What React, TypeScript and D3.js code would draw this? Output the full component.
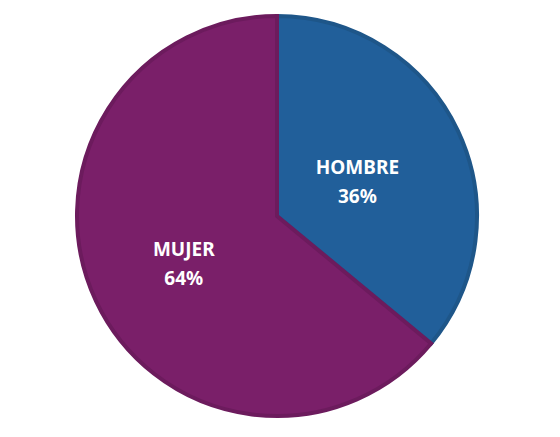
import * as d3 from "d3";

// chart data
const categories = ["HOMBRE", "MUJER"];
const shares = [36, 64];
const fills = ["#215F9A", "#7A1F69"];
const borders = ["#1E5689", "#6C1B5D"];

const W = 560;
const H = 437;
const cx = 277;
const cy = 216;
const radius = 202;

const App = () => {
  const pie = d3
    .pie<number>()
    .sort(null)
    .startAngle(0)
    .endAngle(2 * Math.PI)
    .value((d) => d);
  const slices = pie(shares);
  const total = d3.sum(shares);

  const arc = d3
    .arc<d3.PieArcDatum<number>>()
    .innerRadius(0)
    .outerRadius(radius - 2);

  // bigger slices push their label a bit further out
  const labelPos = (s: d3.PieArcDatum<number>) => {
    const lr = radius * (0.35 + 0.25 * (s.value / total));
    return d3
      .arc<d3.PieArcDatum<number>>()
      .innerRadius(lr)
      .outerRadius(lr)
      .centroid(s);
  };

  return (
    <svg
      width={W}
      height={H}
      style={{ position: "absolute", left: 0, top: 0, background: "#fff" }}
    >
      <g transform={"translate(" + cx + "," + cy + ")"}>
        {slices.map((s, i) => (
          <path
            key={categories[i]}
            d={arc(s) || ""}
            fill={fills[i]}
            stroke={borders[i]}
            strokeWidth={4}
            strokeLinejoin="miter"
          />
        ))}
        {slices.map((s, i) => {
          const [lx, ly] = labelPos(s);
          return (
            <text
              key={"l" + i}
              x={lx}
              y={ly}
              textAnchor="middle"
              fill="#fff"
              fontFamily="'Noto Sans', sans-serif"
              fontWeight={700}
              fontSize={19}
            >
              <tspan x={lx} dy="-0.2em">
                {categories[i]}
              </tspan>
              <tspan x={lx} dy="1.5em">
                {shares[i] + "%"}
              </tspan>
            </text>
          );
        })}
      </g>
    </svg>
  );
};

export default App;
